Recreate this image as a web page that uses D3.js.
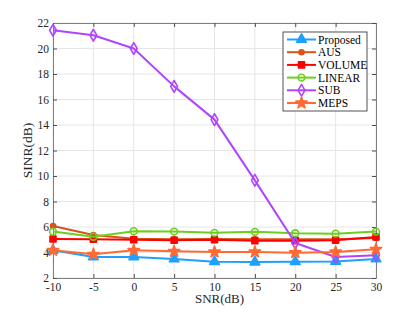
<!DOCTYPE html>
<html>
<head>
<meta charset="utf-8">
<script src="https://cdn.jsdelivr.net/npm/d3@7"></script>
<style>
  body { margin: 0; background: #fff; }
  svg { display: block; font-family: "Liberation Serif", "DejaVu Serif", serif; }
</style>
</head>
<body>
<div id="chart"></div>
<script>
const snr = [-10, -5, 0, 5, 10, 15, 20, 25, 30];
const proposed = [4.17, 3.65, 3.65, 3.49, 3.28, 3.25, 3.28, 3.3, 3.49];
const aus = [6.08, 5.37, 5.08, 5.03, 5.06, 5.03, 5.03, 5.03, 5.14];
const volume = [5.06, 5.04, 5.0, 4.96, 5.0, 4.93, 4.93, 4.96, 5.22];
const linear = [5.64, 5.24, 5.67, 5.64, 5.54, 5.62, 5.51, 5.48, 5.64];
const sub = [21.43, 21.04, 20.0, 17.03, 14.42, 9.66, 4.75, 3.65, 3.78];
const meps = [4.17, 3.86, 4.17, 4.09, 4.04, 4.04, 3.99, 4.04, 4.25];
const xTicks = [-10, -5, 0, 5, 10, 15, 20, 25, 30];
const yTicks = [2, 4, 6, 8, 10, 12, 14, 16, 18, 20, 22];

const series = [
  { label: "Proposed", values: proposed, color: "#1ea0ff", marker: "triangle" },
  { label: "AUS", values: aus, color: "#d95319", marker: "dot" },
  { label: "VOLUME", values: volume, color: "#ff0000", marker: "square" },
  { label: "LINEAR", values: linear, color: "#6ccf1e", marker: "circle" },
  { label: "SUB", values: sub, color: "#b044ff", marker: "diamond" },
  { label: "MEPS", values: meps, color: "#ff6a33", marker: "star" },
];

const width = 415;
const height = 312;
const margin = { top: 23, right: 39, bottom: 34, left: 53 };
const innerWidth = width - margin.left - margin.right;
const innerHeight = height - margin.top - margin.bottom;
const serif = "Liberation Serif, DejaVu Serif, serif";

const svg = d3.select("#chart").append("svg")
  .attr("width", width)
  .attr("height", height);

const chart = svg.append("g")
  .attr("transform", `translate(${margin.left}, ${margin.top})`);

const x = d3.scaleLinear().domain([-10, 30]).range([0, innerWidth]);
const y = d3.scaleLinear().domain([2, 22]).range([innerHeight, 0]);

// grid
chart.append("g")
  .selectAll("line")
  .data(xTicks)
  .join("line")
  .attr("x1", (d) => x(d)).attr("x2", (d) => x(d))
  .attr("y1", 0).attr("y2", innerHeight)
  .attr("stroke", "#e6e6e6").attr("stroke-width", 1);

chart.append("g")
  .selectAll("line")
  .data(yTicks)
  .join("line")
  .attr("x1", 0).attr("x2", innerWidth)
  .attr("y1", (d) => y(d)).attr("y2", (d) => y(d))
  .attr("stroke", "#e6e6e6").attr("stroke-width", 1);

// axes with inward ticks
const styleAxis = (g) => {
  g.attr("font-family", serif);
  g.select(".domain").attr("stroke", "#7f7f7f");
  g.selectAll(".tick line").attr("stroke", "#4d4d4d");
  g.selectAll(".tick text").attr("fill", "#262626").attr("font-size", 11.5);
};

chart.append("g")
  .attr("transform", `translate(0, ${innerHeight})`)
  .call(d3.axisBottom(x).tickValues(xTicks).tickFormat((d) => String(d))
    .tickSizeInner(-4).tickSizeOuter(0).tickPadding(4.5))
  .call(styleAxis);

chart.append("g")
  .call(d3.axisLeft(y).tickValues(yTicks).tickFormat((d) => String(d))
    .tickSizeInner(-4).tickSizeOuter(0).tickPadding(4))
  .call(styleAxis);

chart.append("g")
  .call(d3.axisTop(x).tickValues(xTicks).tickSizeInner(-4).tickSizeOuter(0))
  .call(styleAxis)
  .call((g) => g.selectAll(".tick text").remove());

chart.append("g")
  .attr("transform", `translate(${innerWidth}, 0)`)
  .call(d3.axisRight(y).tickValues(yTicks).tickSizeInner(-4).tickSizeOuter(0))
  .call(styleAxis)
  .call((g) => g.selectAll(".tick text").remove());

// axis labels
svg.append("text")
  .attr("x", margin.left + innerWidth / 2 + 5)
  .attr("y", height - 9.5)
  .attr("text-anchor", "middle")
  .attr("font-family", serif)
  .attr("font-size", 13)
  .attr("fill", "#262626")
  .text("SNR(dB)");

svg.append("text")
  .attr("transform", `translate(32, ${margin.top + innerHeight / 2}) rotate(-90)`)
  .attr("text-anchor", "middle")
  .attr("font-family", serif)
  .attr("font-size", 13.5)
  .attr("fill", "#262626")
  .text("SINR(dB)");

const symbolFor = {
  triangle: { type: d3.symbolTriangle, size: 40, fill: true },
  dot: { type: d3.symbolCircle, size: 20, fill: true },
  square: { type: d3.symbolSquare, size: 36, fill: true },
  circle: { type: d3.symbolCircle, size: 36, fill: false },
  diamond: { type: d3.symbolDiamond, size: 40, fill: false },
  star: { type: d3.symbolStar, size: 40, fill: true },
};

const drawMarker = (g, item, cx, cy) => {
  const s = symbolFor[item.marker];
  g.append("path")
    .attr("transform", `translate(${cx}, ${cy})`)
    .attr("d", d3.symbol().type(s.type).size(s.size)())
    .attr("fill", s.fill ? item.color : "none")
    .attr("stroke", item.color)
    .attr("stroke-width", 1.6)
    .attr("stroke-linejoin", "round");
};

const line = d3.line()
  .x((d, i) => x(snr[i]))
  .y((d) => y(d));

series.forEach((item) => {
  chart.append("path")
    .datum(item.values)
    .attr("fill", "none")
    .attr("stroke", item.color)
    .attr("stroke-width", 2)
    .attr("stroke-linejoin", "round")
    .attr("d", line);
  const marks = chart.append("g");
  item.values.forEach((v, i) => drawMarker(marks, item, x(snr[i]), y(v)));
});

// legend
const legend = svg.append("g").attr("transform", "translate(283, 32)");
legend.append("rect")
  .attr("width", 84).attr("height", 79)
  .attr("fill", "#fff")
  .attr("stroke", "#262626").attr("stroke-width", 0.8);

series.forEach((item, index) => {
  const entry = legend.append("g").attr("transform", `translate(0, ${7.5 + index * 12.7})`);
  entry.append("line")
    .attr("x1", 4).attr("x2", 33)
    .attr("stroke", item.color).attr("stroke-width", 2);
  drawMarker(entry, item, 18.5, 0);
  entry.append("text")
    .attr("x", 35).attr("y", 4)
    .attr("font-family", serif)
    .attr("font-size", 11.5)
    .attr("fill", "#000")
    .text(item.label);
});
</script>
</body>
</html>
